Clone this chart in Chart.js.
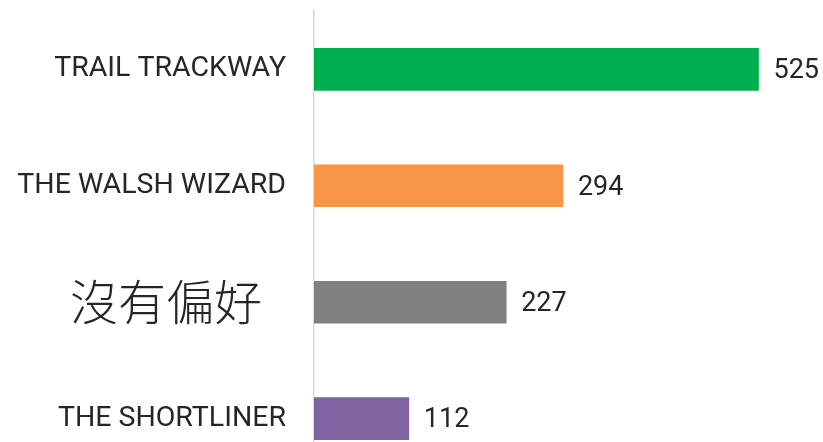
<!DOCTYPE html>
<html><head><meta charset="utf-8">
<script src="https://cdn.jsdelivr.net/npm/chart.js@4"></script>
<style>
html,body{margin:0;padding:0;background:#fff;overflow:hidden;}
#wrap{width:823px;height:442px;overflow:hidden;position:relative;}
#c{position:absolute;left:0;top:-34px;}
</style></head><body>
<div id="wrap"><canvas id="c" width="823" height="556"></canvas></div>
<script>
const categories = ["TRAIL TRACKWAY", "THE WALSH WIZARD", "沒有偏好\u2002", "THE SHORTLINER"];
const values = [525, 294, 227, 112];
const colors = ["#00B050", "#F79646", "#808080", "#8064A2"];

const valueLabels = {
  id: 'valueLabels',
  afterDatasetsDraw(chart) {
    const ctx = chart.ctx;
    const meta = chart.getDatasetMeta(0);
    ctx.save();
    ctx.font = '27px Roboto';
    ctx.fillStyle = '#262626';
    ctx.textAlign = 'left';
    ctx.textBaseline = 'middle';
    meta.data.forEach((bar, i) => {
      ctx.fillText(String(values[i]), bar.x + 15, bar.y + 2);
    });
    ctx.restore();
  }
};

new Chart(document.getElementById('c'), {
  type: 'bar',
  data: {
    labels: categories,
    datasets: [{ data: values, backgroundColor: colors, barThickness: 42 }]
  },
  options: {
    indexAxis: 'y',
    responsive: false,
    animation: false,
    layout: { padding: { top: 0, bottom: 0, left: 0, right: 1 } },
    plugins: { legend: { display: false }, tooltip: { enabled: false } },
    scales: {
      x: { display: false, min: 0, max: 600 },
      y: {
        afterFit(scale) { scale.width = 314; },
        grid: { display: false, drawTicks: false },
        border: { display: true, color: '#d9d9d9', width: 1.5 },
        ticks: {
          padding: 28,
          color: '#262626',
          font: (ctx) => ctx.index === 2
            ? { family: '"Noto Sans CJK TC"', size: 48, weight: '300' }
            : { family: 'Roboto', size: 28.5 }
        }
      }
    }
  },
  plugins: [valueLabels]
});
</script>
</body></html>
